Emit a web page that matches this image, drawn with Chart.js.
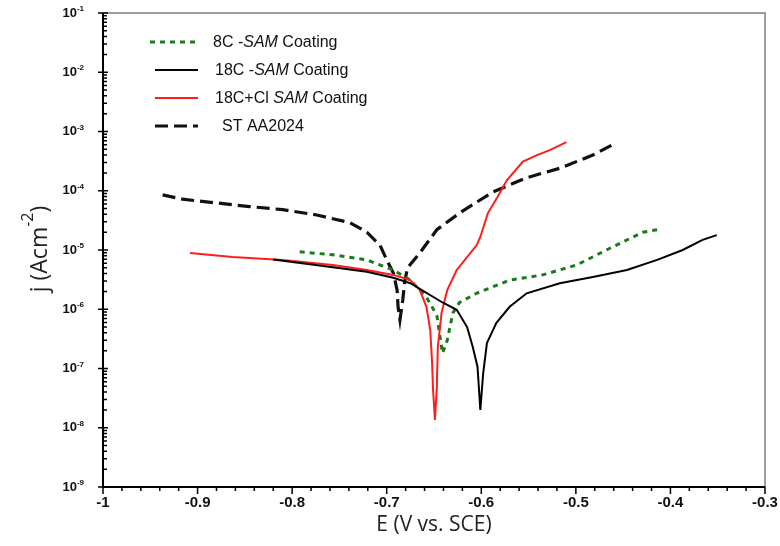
<!DOCTYPE html>
<html>
<head>
<meta charset="utf-8">
<script src="https://cdn.jsdelivr.net/npm/chart.js@4/dist/chart.umd.min.js"></script>
<style>
  html, body { margin: 0; padding: 0; background: #fff; }
</style>
</head>
<body>
<canvas id="myChart" width="780" height="546"></canvas>
<script>
// E (V vs. SCE) and j (A/cm2)
const eST   = [-0.937, -0.916, -0.879, -0.845, -0.810, -0.774, -0.739, -0.721, -0.707, -0.700, -0.693, -0.689, -0.688, -0.686, -0.683, -0.681, -0.678, -0.665, -0.647, -0.623, -0.588, -0.552, -0.517, -0.482, -0.457];
const jST   = [8.5e-5, 7.2e-5, 6.2e-5, 5.4e-5, 4.8e-5, 3.9e-5, 2.9e-5, 2.0e-5, 1.2e-5, 6.8e-6, 4.1e-6, 2.1e-6, 1.1e-6, 6.6e-7, 1.45e-6, 2.9e-6, 5.0e-6, 8.9e-6, 2.2e-5, 4.2e-5, 9.5e-5, 1.66e-4, 2.4e-4, 4.0e-4, 6.5e-4];

const eRed  = [-0.908, -0.863, -0.810, -0.757, -0.721, -0.693, -0.675, -0.665, -0.658, -0.654, -0.652, -0.651, -0.649, -0.647, -0.646, -0.642, -0.636, -0.626, -0.615, -0.605, -0.601, -0.593, -0.583, -0.573, -0.556, -0.541, -0.527, -0.510];
const jRed  = [8.9e-6, 7.6e-6, 6.8e-6, 5.6e-6, 4.6e-6, 3.8e-6, 3.1e-6, 2.1e-6, 1.1e-6, 4.5e-7, 1.23e-7, 4.4e-8, 1.35e-8, 4.9e-8, 2.3e-7, 8.7e-7, 2.1e-6, 4.6e-6, 7.6e-6, 1.2e-5, 1.66e-5, 4.2e-5, 7.8e-5, 1.5e-4, 3.1e-4, 4.0e-4, 4.9e-4, 6.6e-4];

const e18C  = [-0.820, -0.757, -0.721, -0.693, -0.675, -0.641, -0.626, -0.615, -0.609, -0.604, -0.601, -0.598, -0.594, -0.584, -0.570, -0.552, -0.517, -0.482, -0.446, -0.414, -0.387, -0.366, -0.351];
const j18C  = [6.9e-6, 5.1e-6, 4.3e-6, 3.4e-6, 2.75e-6, 1.3e-6, 9.8e-7, 5.0e-7, 2.3e-7, 1.07e-7, 2.0e-8, 8.3e-8, 2.7e-7, 5.9e-7, 1.1e-6, 1.86e-6, 2.75e-6, 3.5e-6, 4.6e-6, 6.8e-6, 1.0e-5, 1.48e-5, 1.78e-5];

const e8C   = [-0.792, -0.757, -0.721, -0.693, -0.675, -0.658, -0.647, -0.641, -0.636, -0.630, -0.623, -0.605, -0.570, -0.535, -0.499, -0.464, -0.429, -0.414];
const j8C   = [9.3e-6, 8.3e-6, 6.8e-6, 4.6e-6, 3.1e-6, 1.6e-6, 7.9e-7, 1.8e-7, 3.0e-7, 8.7e-7, 1.3e-6, 1.86e-6, 3.1e-6, 3.8e-6, 5.6e-6, 1.07e-5, 2.0e-5, 2.2e-5];

const xTicks = [-1, -0.9, -0.8, -0.7, -0.6, -0.5, -0.4, -0.3];
const yExps  = [-1, -2, -3, -4, -5, -6, -7, -8, -9];

const labels = ['8C -|SAM| Coating', '18C -|SAM| Coating', '18C+Cl |SAM| Coating', 'ST AA2024'];

function pts(xs, ys) {
  return xs.map((v, i) => ({ x: v, y: ys[i] }));
}

const green = '#1b7a1b';
const red = '#ff1c1c';

const styles = [
  { color: green, width: 3, dash: [5, 5] },
  { color: '#000', width: 2, dash: [] },
  { color: red, width: 2, dash: [] },
  { color: '#111', width: 3.2, dash: [13, 6] }
];

function drawSup(ctx, base, sup, xRight, yMid, fBase, fSup) {
  ctx.font = fSup;
  const ws = ctx.measureText(sup).width;
  ctx.font = fBase;
  const wb = ctx.measureText(base).width;
  const x0 = xRight - wb - ws;
  ctx.textBaseline = 'middle';
  ctx.textAlign = 'left';
  ctx.font = fBase;
  ctx.fillText(base, x0, yMid);
  ctx.font = fSup;
  ctx.fillText(sup, x0 + wb, yMid - 4);
}

const deco = {
  id: 'deco',
  afterDraw(chart) {
    const { ctx, chartArea: a, scales: { x, y } } = chart;
    ctx.save();
    // frame top/right
    ctx.strokeStyle = '#9c9c9c';
    ctx.lineWidth = 2;
    ctx.beginPath();
    ctx.moveTo(a.left, a.top); ctx.lineTo(a.right, a.top); ctx.lineTo(a.right, a.bottom);
    ctx.stroke();
    // axes
    ctx.strokeStyle = '#000';
    ctx.lineWidth = 2;
    ctx.beginPath();
    ctx.moveTo(a.left, a.top); ctx.lineTo(a.left, a.bottom); ctx.lineTo(a.right, a.bottom);
    ctx.stroke();
    // x ticks
    ctx.lineWidth = 1.5;
    ctx.beginPath();
    for (let i = 0; i <= 35; i++) {
      const px = x.getPixelForValue(-1 + i * 0.02);
      const len = i % 5 === 0 ? 7 : 4;
      ctx.moveTo(px, a.bottom); ctx.lineTo(px, a.bottom + len);
    }
    // y ticks
    for (let e = -9; e <= -1; e++) {
      const py = y.getPixelForValue(Math.pow(10, e));
      ctx.moveTo(a.left - 5, py); ctx.lineTo(a.left + 5, py);
      if (e < -1) {
        for (let m = 2; m <= 9; m++) {
          const pm = y.getPixelForValue(m * Math.pow(10, e));
          ctx.moveTo(a.left, pm); ctx.lineTo(a.left + 4, pm);
        }
      }
    }
    ctx.stroke();
    // y tick labels
    ctx.fillStyle = '#111';
    yExps.forEach(e => {
      const py = y.getPixelForValue(Math.pow(10, e));
      drawSup(ctx, '10', '-' + Math.abs(e), 84, py, 'bold 13px "Liberation Sans"', 'bold 8px "Liberation Sans"');
    });
    // axis titles
    ctx.fillStyle = '#222';
    ctx.font = '21px "Open Sans"';
    ctx.textAlign = 'center';
    ctx.textBaseline = 'middle';
    ctx.fillText('E (V vs. SCE)', (a.left + a.right) / 2, 525);
    ctx.save();
    ctx.translate(40, 249);
    ctx.rotate(-Math.PI / 2);
    ctx.font = '23px "Open Sans"';
    const t1 = 'j (Acm', t2 = '-2', t3 = ')';
    const w1 = ctx.measureText(t1).width, w3 = ctx.measureText(t3).width;
    ctx.font = '16px "Open Sans"';
    const w2 = ctx.measureText(t2).width;
    let sx = -(w1 + w2 + w3) / 2;
    ctx.textAlign = 'left';
    ctx.font = '23px "Open Sans"';
    ctx.fillText(t1, sx, 0);
    ctx.font = '16px "Open Sans"';
    ctx.fillText(t2, sx + w1, -12);
    ctx.font = '23px "Open Sans"';
    ctx.fillText(t3, sx + w1 + w2, 0);
    ctx.restore();
    // legend
    const rows = [42, 70, 98, 126];
    const lineStart = [150, 155, 155, 155];
    const textStart = [213, 215, 215, 222];
    labels.forEach((lab, i) => {
      const st = styles[i];
      ctx.strokeStyle = st.color;
      ctx.lineWidth = st.width;
      ctx.setLineDash(st.dash);
      ctx.beginPath();
      ctx.moveTo(lineStart[i], rows[i]); ctx.lineTo(198, rows[i]);
      ctx.stroke();
      ctx.setLineDash([]);
      ctx.fillStyle = '#111';
      ctx.textAlign = 'left';
      ctx.textBaseline = 'middle';
      let tx = textStart[i];
      lab.split('|').forEach((part, k) => {
        ctx.font = (k === 1 ? 'italic ' : '') + '16px "Liberation Sans"';
        ctx.fillText(part, tx, rows[i] + 1);
        tx += ctx.measureText(part).width;
      });
    });
    ctx.restore();
  }
};

const ctx = document.getElementById('myChart').getContext('2d');
const series = [pts(e8C, j8C), pts(e18C, j18C), pts(eRed, jRed), pts(eST, jST)];
const order = [3, 1, 2, 4];

new Chart(ctx, {
  type: 'scatter',
  data: {
    datasets: series.map((d, i) => ({
      label: labels[i].replace(/\|/g, ''),
      data: d,
      showLine: true,
      borderColor: styles[i].color,
      borderWidth: styles[i].width,
      borderDash: styles[i].dash,
      pointRadius: 0,
      tension: 0,
      order: order[i]
    }))
  },
  options: {
    responsive: false,
    animation: false,
    layout: { padding: { top: 13, right: 15, left: 0, bottom: 0 } },
    plugins: {
      legend: { display: false },
      tooltip: { enabled: false }
    },
    scales: {
      x: {
        type: 'linear',
        min: -1,
        max: -0.3,
        grid: { display: false, drawTicks: false, tickLength: 0 },
        border: { display: false },
        afterBuildTicks: s => { s.ticks = xTicks.map(v => ({ value: v })); },
        afterFit: s => { s.height = 59; s.paddingRight = 0; s.paddingLeft = 0; },
        ticks: {
          padding: 7,
          color: '#111',
          maxRotation: 0,
          font: { family: 'Liberation Sans', size: 15, weight: 'bold' },
          callback: v => String(Number(v.toFixed(1)))
        }
      },
      y: {
        type: 'logarithmic',
        min: 1e-9,
        max: 1e-1,
        grid: { display: false },
        border: { display: false },
        ticks: { display: false },
        afterFit: s => { s.width = 103; }
      }
    }
  },
  plugins: [deco]
});
</script>
</body>
</html>
